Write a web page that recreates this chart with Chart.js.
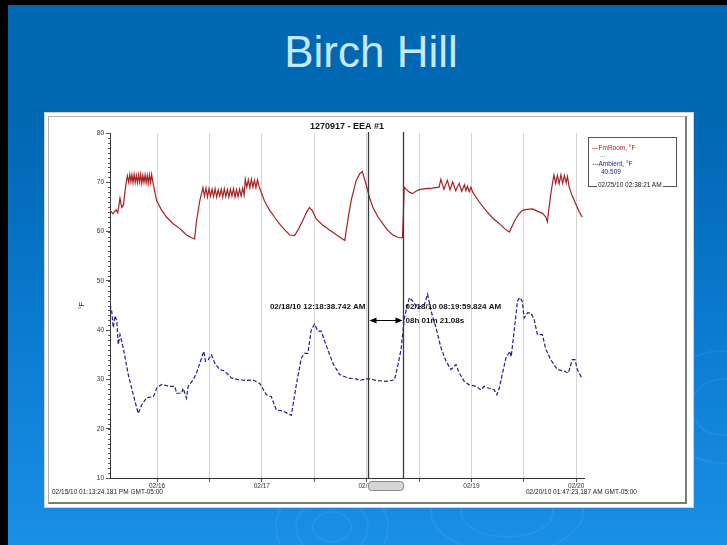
<!DOCTYPE html>
<html>
<head>
<meta charset="utf-8">
<script src="https://cdn.jsdelivr.net/npm/chart.js@4"></script>
<style>
  html, body { margin: 0; padding: 0; }
  body {
    width: 727px; height: 545px; overflow: hidden; position: relative;
    background: linear-gradient(to bottom, #0067b2 0%, #0067b2 22%, #0b7bd0 60%, #1a8fe6 100%);
    font-family: "Liberation Sans", Arial, sans-serif;
  }
  #frameTop { position: absolute; left: 0; top: 0; width: 727px; height: 5px; background: #000; }
  #frameLeft { position: absolute; left: 0; top: 0; width: 8px; height: 545px; background: #000; }
  .ring { position: absolute; border-radius: 50%; border: 2px solid rgba(255,255,255,0.06); }
  #slideTitle {
    position: absolute; left: 0; top: 30px; width: 742px; text-align: center;
    font-size: 44px; line-height: 44px; color: #c5e8fb;
  }
  #panel {
    position: absolute; left: 44px; top: 112px; width: 650px; height: 396px;
    background: #fff; box-shadow: inset 0 0 0 1px #d0d0d0;
  }
  #inner {
    position: absolute; left: 4px; top: 4px; width: 636px; height: 385px;
    border: 1px solid #b0b0b0; border-right: 2px solid #7a7a7a; border-bottom: 2px solid #7a7a7a;
  }
  #chart { position: absolute; left: 0; top: 0; }
  #legendBox {
    position: absolute; left: 544px; top: 25px; width: 87px; height: 48px;
    border: 1px solid #555; background: #fff;
    font-size: 6.5px; line-height: 8px;
  }
  #legendBox .row { position: absolute; white-space: nowrap; }
  #legendBox .stamp { position: absolute; left: 8px; top: 43px; background: #fff; color: #222; padding: 0 1px; }
</style>
</head>
<body>
<div id="frameTop"></div>
<div id="frameLeft"></div>
<div class="ring" style="left:275px;top:480px;width:110px;height:90px"></div>
<div class="ring" style="left:295px;top:497px;width:70px;height:56px"></div>
<div class="ring" style="left:312px;top:511px;width:36px;height:28px"></div>
<div class="ring" style="left:430px;top:470px;width:150px;height:80px"></div>
<div class="ring" style="left:460px;top:486px;width:90px;height:48px"></div>
<div class="ring" style="left:660px;top:350px;width:120px;height:110px"></div>
<div class="ring" style="left:690px;top:378px;width:60px;height:54px"></div>
<div id="slideTitle">Birch Hill</div>
<div id="panel">
  <div id="inner"></div>
  <canvas id="chart" width="650" height="396"></canvas>
  <div id="legendBox">
    <div class="row" style="left:3px;top:6px;color:#a82020">&mdash;FmRoom, °F</div>
    <div class="row" style="left:11px;top:13px;color:#777">...</div>
    <div class="row" style="left:3px;top:22px;color:#1f1f8a">---Ambient, °F</div>
    <div class="row" style="left:12px;top:30px;color:#1f1f8a">40.509</div>
    <div class="stamp">02/25/10 02:38:21 AM</div>
  </div>
</div>
<script>
// hours counted from 02/15/10 00:00
const startHour = 13.22;
const endHour = 121.79;
const dayTicks = [24, 36, 48, 60, 72, 84, 96, 108, 120];
const dayLabels = ['02/16', '', '02/17', '', '02/18', '', '02/19', '', '02/20'];

// FmRoom, °F
const roomHours = [
  13.22, 13.9, 14.6, 15.0, 15.5, 15.9, 16.3, 16.7, 17.2,
  17.5, 17.75, 18.0, 18.25, 18.5, 18.75, 19.0, 19.25, 19.5, 19.75, 20.0, 20.25, 20.5, 20.75, 21.0, 21.25, 21.5, 21.75, 22.0, 22.25, 22.5, 22.75,
  23.0, 23.9, 25.0, 26.2, 27.7, 29.2, 30.75, 32.0, 32.6, 33.0, 33.8, 34.5,
  34.85, 35.2, 35.55, 35.9, 36.25, 36.6, 36.95, 37.3, 37.65, 38.0, 38.35, 38.7, 39.05, 39.4, 39.75, 40.1, 40.45, 40.8, 41.15, 41.5, 41.85, 42.2, 42.55, 42.9, 43.25, 43.6, 43.95,
  44.2, 44.55, 44.9, 45.25, 45.6, 45.95, 46.3, 46.65, 47.0, 47.35,
  47.6, 48.6, 49.8, 51.0, 52.1, 53.3, 54.4, 55.5, 56.4, 57.4, 58.3, 58.9, 59.6, 60.5, 62.0, 63.5, 65.3, 67.0, 67.3, 68.0, 68.5, 69.6, 70.4, 71.0, 71.9, 72.7, 73.4, 74.5, 75.7, 76.8, 78.0, 79.0, 79.9, 80.2,
  80.4, 80.6, 81.0, 81.8, 82.5, 83.3, 84.1, 85.5, 87.0, 88.6,
  89.0, 89.7, 90.5, 91.1, 91.7, 92.4, 93.2, 93.8, 94.4, 94.75, 95.1, 95.5, 95.9,
  96.3, 97.8, 99.3, 100.8, 102.4, 103.6, 104.7, 105.8, 106.7, 107.7, 108.8, 110.0, 111.2, 112.3, 113.0, 113.4, 113.8, 114.2, 114.6,
  114.9, 115.3, 115.7, 116.1, 116.5, 116.9, 117.3, 117.7, 118.0,
  118.4, 119.1, 119.9, 120.7, 121.4
];
const roomTemps = [
  64.3, 63.6, 64.4, 63.8, 66.8, 64.9, 65.4, 68.5, 71.3,
  70.0, 71.6, 70.1, 71.5, 69.9, 71.6, 70.0, 71.4, 69.9, 71.5, 70.0, 71.6, 69.8, 71.4, 70.0, 71.5, 69.9, 71.4, 69.8, 71.5, 70.0, 71.6,
  70.2, 66.3, 64.4, 62.9, 61.6, 60.6, 59.3, 58.7, 58.5, 62.0, 66.3, 68.9,
  67.2, 68.8, 67.0, 68.7, 67.2, 68.6, 67.1, 68.7, 67.0, 68.5, 67.2, 68.6, 67.0, 68.7, 67.1, 68.5, 67.0, 68.6, 67.2, 68.7, 67.0, 68.5, 67.1, 68.6, 67.2, 68.8, 67.4,
  70.6, 69.0, 70.5, 68.9, 70.6, 69.0, 70.4, 68.9, 70.5, 69.2,
  68.6, 66.2, 64.3, 62.8, 61.5, 60.3, 59.3, 59.2, 60.5, 62.3, 64.0, 64.9, 64.2, 62.5, 61.3, 60.3, 59.2, 58.2, 60.0, 64.0, 66.5, 70.3, 71.7, 72.2, 69.5, 66.8, 65.0, 63.1, 61.6, 60.3, 59.3, 58.9, 58.7, 58.8,
  63.0, 69.0, 68.6, 68.0, 67.7, 68.2, 68.5, 68.7, 68.8, 69.0,
  70.6, 68.6, 70.4, 68.5, 70.1, 68.3, 69.8, 68.2, 69.5, 68.3, 69.2, 68.1, 69.0,
  68.0, 66.0, 64.3, 62.8, 61.6, 60.6, 59.9, 62.0, 63.4, 64.3, 64.5, 64.6, 64.1, 63.7, 63.0, 62.0, 65.0, 67.7, 70.0,
  71.5, 69.8, 71.4, 69.7, 71.5, 69.8, 71.4, 69.9, 71.2,
  69.0, 67.2, 65.6, 64.0, 62.9
];

// Ambient, °F
const ambientHours = [
  13.22, 13.61, 13.97, 14.36, 14.75, 15.12, 15.51, 16.26, 17.40, 18.55, 19.69, 20.47, 21.61, 23.12, 23.51, 23.89,
  25.04, 26.93, 28.08, 28.47, 29.61, 29.97, 30.75, 31.12, 32.26, 33.04, 33.79, 34.71, 35.09, 35.69, 36.46, 37.22,
  38.36, 39.51, 41.04, 42.93, 44.47, 45.97, 47.51, 49.04, 50.18, 51.32, 52.83, 54.75, 55.89, 57.04, 57.79, 58.55,
  59.32, 60.08, 60.83, 61.61, 62.36, 64.26, 65.79, 67.69, 69.61, 70.36, 71.89, 72.65, 74.18, 76.47, 78.36, 79.12,
  79.89, 80.65, 81.79, 82.55, 83.69, 85.22, 85.97, 86.75, 87.89, 89.04, 90.18, 91.32, 92.47, 93.22, 94.36, 95.51,
  97.04, 98.18, 98.93, 100.08, 101.22, 101.84, 102.36, 103.89, 104.81, 105.11, 105.79, 106.55, 107.09, 107.62, 108.08, 108.83,
  109.61, 110.36, 111.12, 112.26, 113.04, 114.18, 115.69, 117.22, 118.20, 119.12, 119.73, 120.26, 121.27
];
const ambientTemps = [
  45.2, 43.9, 40.5, 42.9, 42.0, 37.1, 39.1, 36.4, 31.0, 26.9, 23.1, 24.8, 26.3, 26.5, 27.2, 28.2,
  29.0, 28.6, 28.6, 27.2, 27.2, 28.2, 26.2, 28.6, 29.9, 31.3, 33.3, 35.7, 33.7, 34.0, 35.0, 33.3,
  32.0, 31.7, 30.3, 29.9, 29.8, 29.9, 29.2, 26.9, 26.5, 23.8, 23.6, 22.7, 28.9, 34.3, 35.3, 35.3,
  40.1, 41.2, 39.8, 39.8, 37.8, 33.3, 31.0, 30.3, 30.1, 29.8, 30.1, 30.1, 29.8, 29.6, 29.9, 32.7,
  36.1, 42.5, 46.6, 45.9, 44.5, 45.2, 47.3, 43.9, 40.5, 36.4, 33.7, 32.0, 33.0, 31.3, 29.6, 28.9,
  28.6, 27.9, 28.6, 28.2, 27.9, 26.9, 28.2, 34.3, 35.7, 34.6, 39.8, 45.9, 46.6, 45.9, 42.5, 43.5,
  43.5, 42.2, 39.1, 39.1, 36.1, 34.0, 32.0, 31.7, 31.3, 34.0, 34.0, 32.0, 30.3
];

// cursor readout
const cursorHours = [72.31, 80.33];
const cursorLabels = ['02/18/10 12:18:38.742 AM', '02/18/10 08:19:59.824 AM'];
const spanLabel = '08h 01m 21.08s';
const rangeLabels = ['02/15/10 01:13:24.181 PM GMT-05:00', '02/20/10 01:47:23.187 AM GMT-05:00'];
const chartTitle = '1270917 - EEA #1';
const unitLabel = '°F';

const FONT = '"Liberation Sans", Arial, sans-serif';

function toPoints(xs, ys) {
  return xs.map((h, i) => ({ x: h, y: ys[i] }));
}

const overlay = {
  id: 'overlay',
  afterDatasetsDraw(chart) {
    const { ctx, chartArea: a, scales: { x, y } } = chart;
    ctx.save();

    // minor ticks on the temperature axis
    ctx.strokeStyle = '#555';
    ctx.lineWidth = 1;
    for (let v = 10; v <= 80; v += 1) {
      const py = Math.round(y.getPixelForValue(v)) + 0.5;
      ctx.beginPath();
      ctx.moveTo(a.left - 2, py);
      ctx.lineTo(a.left, py);
      ctx.stroke();
    }

    // scroll thumb under the cursors
    const c1 = Math.round(x.getPixelForValue(cursorHours[0])) + 0.5;
    const c2 = Math.round(x.getPixelForValue(cursorHours[1])) + 0.5;
    ctx.fillStyle = '#d4d4d4';
    ctx.strokeStyle = '#8a8a8a';
    ctx.beginPath();
    ctx.roundRect(c1, a.bottom + 3.5, c2 - c1, 9, 3);
    ctx.fill();
    ctx.stroke();

    // cursor lines
    ctx.strokeStyle = '#3a3a3a';
    ctx.lineWidth = 1.3;
    [c1, c2].forEach(px => {
      ctx.beginPath();
      ctx.moveTo(px, a.top - 1);
      ctx.lineTo(px, a.bottom);
      ctx.stroke();
    });

    // double arrow between cursors
    const ay = Math.round(y.getPixelForValue(42.0)) + 0.5;
    ctx.strokeStyle = '#000';
    ctx.fillStyle = '#000';
    ctx.lineWidth = 1;
    ctx.beginPath();
    ctx.moveTo(c1 + 2, ay);
    ctx.lineTo(c2 - 2, ay);
    ctx.stroke();
    [[c1 + 1, 1], [c2 - 1, -1]].forEach(([px, dir]) => {
      ctx.beginPath();
      ctx.moveTo(px, ay);
      ctx.lineTo(px + dir * 7, ay - 3);
      ctx.lineTo(px + dir * 7, ay + 3);
      ctx.closePath();
      ctx.fill();
    });

    // cursor text
    ctx.font = 'bold 8px ' + FONT;
    ctx.fillStyle = '#111';
    ctx.textBaseline = 'middle';
    const ty = y.getPixelForValue(44.7);
    ctx.textAlign = 'right';
    ctx.fillText(cursorLabels[0], c1 - 3, ty);
    ctx.textAlign = 'left';
    ctx.fillText(cursorLabels[1], c2 + 2, ty);
    ctx.fillText(spanLabel, c2 + 2, ay);

    // chart title
    ctx.font = 'bold 9px ' + FONT;
    ctx.textAlign = 'center';
    ctx.fillText(chartTitle, (a.left + a.right) / 2, a.top - 6);

    // unit label
    ctx.font = '7px ' + FONT;
    ctx.save();
    ctx.translate(a.left - 28, (a.top + a.bottom) / 2);
    ctx.rotate(-Math.PI / 2);
    ctx.fillText(unitLabel, 0, 0);
    ctx.restore();

    // range stamps
    ctx.font = '6.5px ' + FONT;
    ctx.fillStyle = '#222';
    ctx.textAlign = 'left';
    ctx.fillText(rangeLabels[0], 8, a.bottom + 14);
    ctx.fillText(rangeLabels[1], 482, a.bottom + 14);

    ctx.restore();
  }
};

new Chart(document.getElementById('chart'), {
  type: 'line',
  data: {
    datasets: [
      {
        label: 'FmRoom, °F',
        data: toPoints(roomHours, roomTemps),
        borderColor: '#a82020',
        borderWidth: 1.2,
        pointRadius: 0,
        tension: 0
      },
      {
        label: 'Ambient, °F',
        data: toPoints(ambientHours, ambientTemps),
        borderColor: '#1f1f8a',
        borderWidth: 1.2,
        borderDash: [4, 2],
        pointRadius: 0,
        tension: 0
      }
    ]
  },
  options: {
    responsive: false,
    animation: false,
    layout: { padding: { left: 0, top: 21, right: 110, bottom: 0 } },
    plugins: {
      legend: { display: false },
      title: { display: false },
      tooltip: { enabled: false }
    },
    scales: {
      x: {
        type: 'linear',
        min: startHour,
        max: endHour,
        afterBuildTicks: s => { s.ticks = dayTicks.map(v => ({ value: v })); },
        afterFit: s => { s.height = 30; },
        ticks: {
          autoSkip: false,
          maxRotation: 0,
          padding: 0,
          color: '#333',
          font: { size: 6.5, family: FONT },
          callback: v => dayLabels[dayTicks.indexOf(v)]
        },
        grid: { color: '#d4d4d4', tickColor: '#555', tickLength: 4, lineWidth: 1 },
        border: { color: '#333', width: 1 }
      },
      y: {
        min: 10,
        max: 80,
        afterFit: s => { s.width = 66; },
        ticks: {
          stepSize: 10,
          padding: 2,
          color: '#333',
          font: { size: 6.5, family: FONT }
        },
        grid: { drawOnChartArea: false, tickColor: '#555', tickLength: 4 },
        border: { color: '#333', width: 1 }
      }
    }
  },
  plugins: [overlay]
});
</script>
</body>
</html>
